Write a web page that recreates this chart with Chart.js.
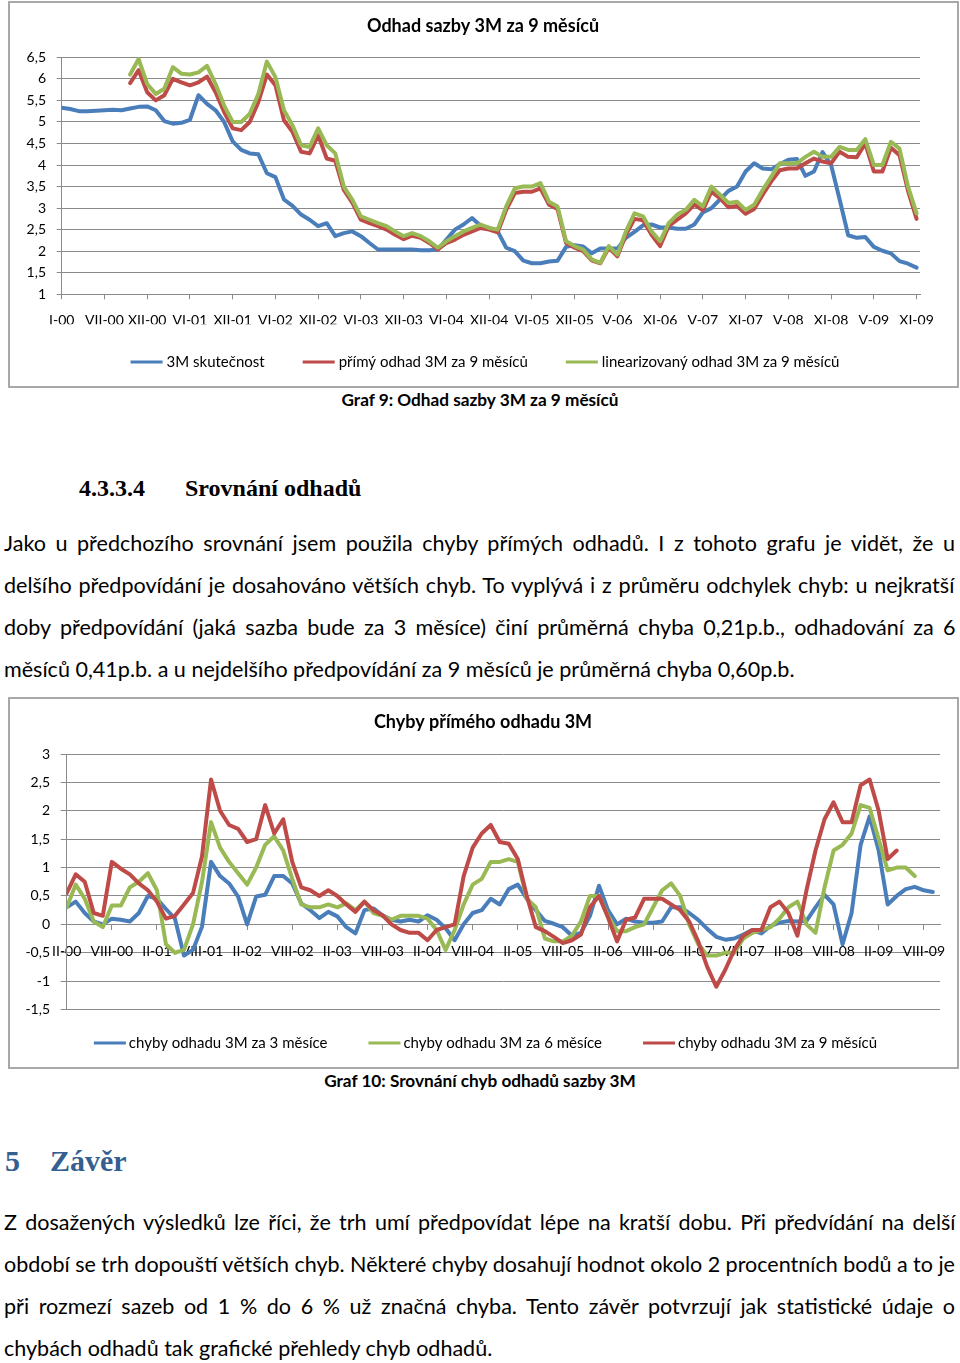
<!DOCTYPE html>
<html><head><meta charset="utf-8">
<script src="https://cdn.jsdelivr.net/npm/chart.js@4.4.0/dist/chart.umd.min.js"></script>
<style>
html,body{margin:0;padding:0;background:#fff;}
body{position:relative;width:960px;height:1363px;overflow:hidden;font-family:Lato,"Liberation Sans",sans-serif;color:#000;}
.frame{position:absolute;border:2px solid #a8a8a8;box-sizing:border-box;}
.cv{position:absolute;}
.cap{position:absolute;left:0;width:960px;text-align:center;font-weight:bold;font-size:17.2px;line-height:24px;}
.txt{position:absolute;left:4px;width:960px;white-space:nowrap;line-height:30px;font-size:20px;}
.h4{position:absolute;font-family:"Liberation Serif",serif;font-weight:bold;font-size:24px;line-height:30px;}
.h1{position:absolute;font-family:"Liberation Serif",serif;font-weight:bold;font-size:30px;line-height:36px;color:#365F91;}
</style></head>
<body>
<div class="frame" style="left:8px;top:1px;width:951px;height:387px"></div>
<canvas id="c1" class="cv" width="952" height="386" style="left:8px;top:2px;width:952px;height:386px"></canvas>
<div class="cap" style="top:388px">Graf 9: Odhad sazby 3M za 9 měsíců</div>

<div class="h4" style="left:79px;top:473px">4.3.3.4</div>
<div class="h4" style="left:185px;top:473px">Srovnání odhadů</div>

<div class="txt p1" style="top:528px">Jako u předchozího srovnání jsem použila chyby přímých odhadů. I z tohoto grafu je vidět, že u</div>
<div class="txt p1" style="top:570px">delšího předpovídání je dosahováno větších chyb. To vyplývá i z průměru odchylek chyb: u nejkratší</div>
<div class="txt p1" style="top:612px">doby předpovídání (jaká sazba bude za 3 měsíce) činí průměrná chyba 0,21p.b., odhadování za 6</div>
<div class="txt p1" style="top:654px">měsíců 0,41p.b. a u nejdelšího předpovídání za 9 měsíců je průměrná chyba 0,60p.b.</div>

<div class="frame" style="left:8px;top:697px;width:951px;height:372px"></div>
<canvas id="c2" class="cv" width="952" height="370" style="left:8px;top:698px;width:952px;height:370px"></canvas>
<div class="cap" style="top:1069px">Graf 10: Srovnání chyb odhadů sazby 3M</div>

<div class="h1" style="left:5px;top:1143px">5</div>
<div class="h1" style="left:50px;top:1143px">Závěr</div>

<div class="txt p2" style="top:1207px">Z dosažených výsledků lze říci, že trh umí předpovídat lépe na kratší dobu. Při předvídání na delší</div>
<div class="txt p2" style="top:1249px">období se trh dopouští větších chyb. Některé chyby dosahují hodnot okolo 2 procentních bodů a to je</div>
<div class="txt p2" style="top:1291px">při rozmezí sazeb od 1 % do 6 % už značná chyba. Tento závěr potvrzují jak statistické údaje o</div>
<div class="txt p2" style="top:1333px">chybách odhadů tak grafické přehledy chyb odhadů.</div>

<script>
// ---------- DATA: chart 1 (Odhad sazby 3M za 9 měsíců) ----------
const title1 = 'Odhad sazby 3M za 9 měsíců';
const xLabels1 = ['I-00','VII-00','XII-00','VI-01','XII-01','VI-02','XII-02','VI-03','XII-03','VI-04','XII-04','VI-05','XII-05','V-06','XI-06','V-07','XI-07','V-08','XI-08','V-09','XI-09'];
const names1 = ['3M skutečnost','přímý odhad 3M za 9 měsíců','linearizovaný odhad 3M za 9 měsíců'];
const yTicks1 = {min: 1, max: 6.5, step: 0.5};
const rate3M = [5.33,5.30,5.25,5.25,5.26,5.27,5.28,5.27,5.31,5.35,
 5.36,5.27,5.02,4.96,4.98,5.05,5.62,5.42,5.27,5.00,
 4.55,4.35,4.27,4.25,3.81,3.72,3.20,3.05,2.85,2.73,
 2.58,2.65,2.35,2.42,2.46,2.35,2.19,2.04,2.04,2.04,
 2.04,2.04,2.02,2.02,2.04,2.27,2.50,2.62,2.77,2.59,
 2.54,2.46,2.08,2.00,1.78,1.72,1.72,1.76,1.78,2.10,
 2.14,2.11,1.95,2.06,2.06,2.06,2.31,2.45,2.60,2.62,
 2.55,2.55,2.52,2.52,2.62,2.90,3.00,3.20,3.40,3.50,
 3.85,4.04,3.92,3.90,4.02,4.12,4.14,3.75,3.85,4.30,
 4.00,3.20,2.37,2.31,2.33,2.10,2.01,1.95,1.77,1.71,
 1.62];
const direct9M = [null,null,null,null,null,null,null,null,5.90,6.20,
 5.69,5.50,5.62,6.00,5.92,5.85,5.92,6.05,5.69,5.23,
 4.85,4.81,5.00,5.46,6.10,5.85,5.04,4.77,4.31,4.27,
 4.69,4.15,4.10,3.42,3.12,2.73,2.65,2.58,2.50,2.38,
 2.28,2.36,2.31,2.19,2.04,2.19,2.27,2.38,2.46,2.54,
 2.50,2.44,2.96,3.35,3.38,3.38,3.46,3.08,2.98,2.19,
 2.08,2.00,1.79,1.72,2.08,1.88,2.38,2.75,2.72,2.38,
 2.12,2.58,2.73,2.88,3.08,2.95,3.38,3.23,3.02,3.05,
 2.87,2.98,3.31,3.62,3.88,3.92,3.92,4.04,4.15,4.08,
 4.04,4.31,4.19,4.18,4.50,3.85,3.85,4.40,4.23,3.40,
 2.75];
const linear9M = [null,null,null,null,null,null,null,null,6.10,6.46,
 5.88,5.65,5.77,6.27,6.12,6.10,6.15,6.30,5.88,5.38,
 5.00,5.00,5.19,5.65,6.40,6.04,5.27,4.92,4.46,4.42,
 4.85,4.46,4.27,3.50,3.19,2.81,2.73,2.65,2.58,2.46,
 2.35,2.42,2.35,2.23,2.08,2.23,2.35,2.46,2.54,2.62,
 2.54,2.50,3.04,3.46,3.50,3.50,3.58,3.15,3.04,2.23,
 2.12,2.04,1.81,1.73,2.12,1.92,2.46,2.88,2.81,2.46,
 2.23,2.65,2.85,2.96,3.19,3.04,3.50,3.31,3.12,3.15,
 2.96,3.08,3.42,3.73,4.04,4.04,4.04,4.19,4.31,4.19,
 4.19,4.42,4.35,4.35,4.60,4.00,4.00,4.54,4.38,3.50,
 2.88];

// ---------- DATA: chart 2 (Chyby přímého odhadu 3M) ----------
const title2 = 'Chyby přímého odhadu 3M';
const xLabels2 = ['II-00','VIII-00','II-01','VIII-01','II-02','VIII-02','II-03','VIII-03','II-04','VIII-04','II-05','VIII-05','II-06','VIII-06','II-07','VIII-07','II-08','VIII-08','II-09','VIII-09'];
const names2 = ['chyby odhadu 3M za 3 měsíce','chyby odhadu 3M za 6 měsíce','chyby odhadu 3M za 9 měsíců'];
const yTicks2 = {min: -1.5, max: 3, step: 0.5};
const err3 = [0.30,0.40,0.20,0.05,0.00,0.10,0.08,0.05,0.20,0.50,
 0.45,0.27,0.10,-0.55,-0.45,-0.04,1.10,0.85,0.72,0.49,
 0.00,0.49,0.52,0.85,0.85,0.72,0.37,0.25,0.11,0.22,
 0.14,-0.05,-0.16,0.25,0.28,0.16,0.08,0.05,0.08,0.05,
 0.16,0.08,-0.07,-0.28,0.00,0.20,0.25,0.45,0.35,0.62,
 0.70,0.45,0.25,0.06,0.01,-0.05,-0.20,-0.15,0.15,0.68,
 0.25,0.00,0.10,0.05,0.03,0.03,0.05,0.30,0.30,0.20,
 0.08,-0.08,-0.22,-0.27,-0.25,-0.18,-0.10,-0.16,-0.03,0.03,
 0.06,0.05,0.06,0.30,0.52,0.35,-0.35,0.20,1.40,1.90,
 1.30,0.35,0.50,0.62,0.66,0.60,0.57];
const err6 = [0.30,0.70,0.45,0.05,-0.05,0.33,0.33,0.65,0.75,0.90,
 0.60,-0.35,-0.50,-0.45,0.00,0.75,1.80,1.35,1.10,0.90,
 0.70,1.00,1.40,1.55,1.30,0.80,0.35,0.30,0.30,0.35,
 0.30,0.37,0.25,0.40,0.20,0.15,0.08,0.15,0.15,0.15,
 0.10,-0.10,-0.45,-0.10,0.35,0.70,0.80,1.10,1.10,1.15,
 1.10,0.45,0.30,-0.25,-0.30,-0.30,-0.20,0.05,0.50,0.50,
 0.15,-0.12,-0.12,-0.05,0.00,0.30,0.60,0.72,0.50,0.00,
 -0.35,-0.55,-0.55,-0.50,-0.50,-0.25,-0.15,-0.10,-0.05,0.10,
 0.30,0.40,0.00,-0.15,0.65,1.30,1.40,1.60,2.10,2.05,
 1.50,0.95,1.00,1.00,0.85];
const err9 = [0.55,0.88,0.75,0.20,0.15,1.10,0.98,0.88,0.72,0.60,
 0.40,0.10,0.15,0.35,0.55,1.20,2.55,2.00,1.75,1.68,
 1.45,1.50,2.10,1.60,1.85,1.10,0.65,0.60,0.50,0.60,
 0.50,0.35,0.22,0.40,0.25,0.16,0.00,-0.10,-0.15,-0.15,
 -0.28,-0.10,-0.05,0.00,0.85,1.35,1.60,1.75,1.45,1.42,
 1.15,0.50,-0.05,-0.12,-0.22,-0.33,-0.28,-0.18,0.30,0.50,
 0.12,-0.30,0.08,0.12,0.45,0.45,0.45,0.35,0.25,0.05,
 -0.30,-0.75,-1.10,-0.80,-0.45,-0.20,-0.10,-0.10,0.30,0.40,
 0.20,-0.20,0.60,1.30,1.85,2.15,1.80,1.80,2.45,2.55,
 2.00,1.15,1.30];

const POINTS_PER_LABEL = 5;

// ---------- styling ----------
const BLUE = '#4A7EBB', RED = '#BE4B48', GREEN = '#98B954', GRID = '#8a8a8a';
const FONT = 'Lato';
const toXY = arr => arr.map((v, i) => ({x: i, y: v}));
const fmt = v => String(v).replace('.', ',');

// Title + line legend drawn at fixed spots, like the Excel chart
const chartText = {
  id: 'chartText',
  afterDraw(chart, args, o) {
    const ctx = chart.ctx;
    ctx.save();
    ctx.textBaseline = 'middle';
    ctx.fillStyle = o.color;
    // title
    ctx.font = o.titleFont;
    ctx.textAlign = 'center';
    ctx.fillText(o.title, o.centerX, o.titleY);
    // legend
    ctx.font = o.font;
    ctx.textAlign = 'left';
    const items = chart.data.datasets.map(ds => ({text: ds.label, color: ds.borderColor, w: ctx.measureText(ds.label).width}));
    const total = items.reduce((s, it) => s + o.lineLength + o.textGap + it.w, 0) + o.itemGap * (items.length - 1);
    let x = o.legendCenterX - total / 2;
    for (const it of items) {
      ctx.strokeStyle = it.color; ctx.lineWidth = o.lineWidth; ctx.lineCap = 'butt';
      ctx.beginPath(); ctx.moveTo(x, o.legendY); ctx.lineTo(x + o.lineLength, o.legendY); ctx.stroke();
      x += o.lineLength + o.textGap;
      ctx.fillText(it.text, x, o.legendY);
      x += it.w + o.itemGap;
    }
    ctx.restore();
  }
};

const tickFont = {family: FONT, size: 14};
const lineEl = {borderWidth: 4, tension: 0, fill: false, borderJoinStyle: 'round', borderCapStyle: 'round'};

new Chart(document.getElementById('c1'), {
  type: 'line',
  data: {datasets: [
    {label: names1[0], data: toXY(rate3M), borderColor: BLUE, backgroundColor: BLUE, order: 3},
    {label: names1[1], data: toXY(direct9M), borderColor: RED, backgroundColor: RED, order: 2},
    {label: names1[2], data: toXY(linear9M), borderColor: GREEN, backgroundColor: GREEN, order: 1}
  ]},
  options: {
    responsive: false, animation: false, devicePixelRatio: 1,
    layout: {padding: {left: 8.7, right: 40, top: 55.3, bottom: 63.7}},
    elements: {point: {radius: 0}, line: lineEl},
    plugins: {
      legend: {display: false}, tooltip: {enabled: false}, title: {display: false},
      chartText: {title: title1, titleFont: 'bold 18px ' + FONT, centerX: 475, titleY: 24,
        legendY: 360, legendCenterX: 477, itemGap: 38, textGap: 4, lineLength: 32, lineWidth: 3, font: '15px ' + FONT, color: '#000'}
    },
    scales: {
      x: {type: 'linear', min: 0, max: 100.4, afterFit: s => { s.height = 30; },
        grid: {drawOnChartArea: false, drawTicks: true, tickLength: 5, color: GRID},
        border: {display: true, color: GRID},
        ticks: {stepSize: POINTS_PER_LABEL, includeBounds: false, autoSkip: false, maxRotation: 0, minRotation: 0, padding: 13, color: '#000', font: tickFont,
          callback: v => (v % POINTS_PER_LABEL === 0 ? (xLabels1[v / POINTS_PER_LABEL] ?? '') : '')}},
      y: {min: yTicks1.min, max: yTicks1.max, afterFit: s => { s.width = 45; },
        grid: {color: GRID, tickLength: 5},
        border: {display: true, color: GRID},
        ticks: {stepSize: yTicks1.step, padding: 10.7, color: '#000', font: tickFont, callback: fmt}}
    }
  },
  plugins: [chartText]
});

new Chart(document.getElementById('c2'), {
  type: 'line',
  data: {datasets: [
    {label: names2[0], data: toXY(err3), borderColor: BLUE, backgroundColor: BLUE, order: 3},
    {label: names2[1], data: toXY(err6), borderColor: GREEN, backgroundColor: GREEN, order: 2},
    {label: names2[2], data: toXY(err9), borderColor: RED, backgroundColor: RED, order: 1}
  ]},
  options: {
    responsive: false, animation: false, devicePixelRatio: 1,
    layout: {padding: {left: 10.7, right: 20, top: 56, bottom: 58.5}},
    elements: {point: {radius: 0}, line: lineEl},
    plugins: {
      legend: {display: false}, tooltip: {enabled: false}, title: {display: false},
      chartText: {title: title2, titleFont: 'bold 18px ' + FONT, centerX: 475, titleY: 24,
        legendY: 345, legendCenterX: 477.5, itemGap: 41, textGap: 3, lineLength: 32, lineWidth: 3, font: '15px ' + FONT, color: '#000'}
    },
    scales: {
      x: {type: 'linear', min: 0, max: 96.8, position: {y: 0}, afterFit: s => { s.height = 0; },
        grid: {drawOnChartArea: false, drawTicks: true, tickLength: 5, color: GRID},
        border: {display: true, color: GRID},
        ticks: {stepSize: POINTS_PER_LABEL, includeBounds: false, autoSkip: false, maxRotation: 0, minRotation: 0, padding: 13.3, color: '#000', font: tickFont,
          callback: v => (v % POINTS_PER_LABEL === 0 ? (xLabels2[v / POINTS_PER_LABEL] ?? '') : '')}},
      y: {min: yTicks2.min, max: yTicks2.max, afterFit: s => { s.width = 48; },
        grid: {color: GRID, tickLength: 6},
        border: {display: true, color: GRID},
        ticks: {stepSize: yTicks2.step, padding: 10.7, color: '#000', font: tickFont, callback: fmt}}
    }
  },
  plugins: [chartText]
});

// ---------- justify paragraph lines like the source document ----------
function fitPara(cls, lastLineWidth, fullWidth) {
  const lines = Array.from(document.querySelectorAll('.' + cls));
  const c = document.createElement('canvas').getContext('2d');
  c.font = '20px ' + FONT;
  const last = lines[lines.length - 1];
  const size = 20 * lastLineWidth / c.measureText(last.textContent).width;
  c.font = size + 'px ' + FONT;
  lines.forEach((el, k) => {
    el.style.fontSize = size + 'px';
    if (k < lines.length - 1) {
      const t = el.textContent;
      const w = c.measureText(t).width;
      const spaces = (t.match(/ /g) || []).length;
      el.style.wordSpacing = ((fullWidth - w) / spaces) + 'px';
    }
  });
}
fitPara('p1', 791, 952);
fitPara('p2', 489, 952);
</script>
</body></html>
